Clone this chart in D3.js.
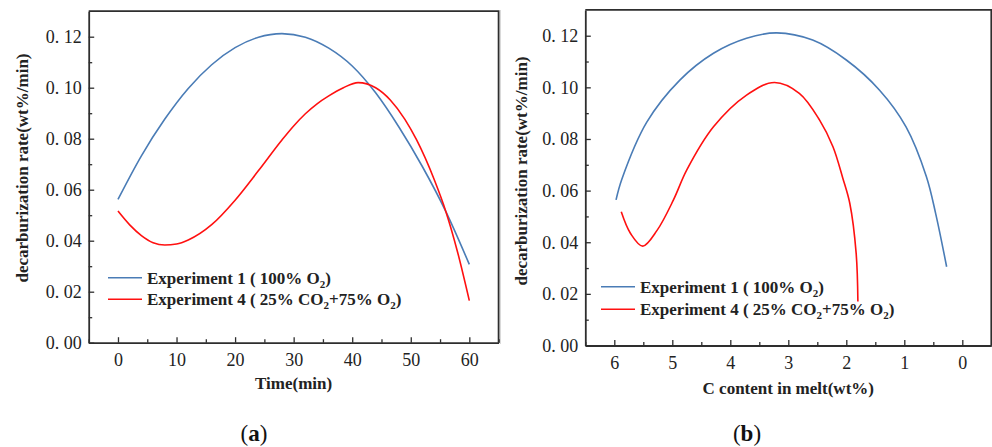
<!DOCTYPE html>
<html><head><meta charset="utf-8">
<script src="https://cdn.jsdelivr.net/npm/d3@7"></script>
<style>body{margin:0;background:#fff} svg{display:block}</style>
</head><body>
<svg id="c" width="992" height="447"></svg>
<script>
// ---- data ----
const timeTicks = [0, 10, 20, 30, 40, 50, 60];
const carbonTicks = [6, 5, 4, 3, 2, 1, 0];
const rateTicks = [0, 0.02, 0.04, 0.06, 0.08, 0.10, 0.12];

// (a) rate vs time
const exp1Time  = [0, 4, 8, 12, 16, 20, 24, 28, 32, 36, 40, 44, 48, 52, 56, 60];
const exp1RateA = [0.0562, 0.0733, 0.0877, 0.0997, 0.1090, 0.1157, 0.1198, 0.1212, 0.1198, 0.1155, 0.1085, 0.0980, 0.0845, 0.0690, 0.0514, 0.0307];
const exp4Time  = [0, 2, 4, 6, 8, 10, 12, 16, 20, 24, 28, 30, 32, 34, 36, 38.5, 41, 44, 46.5, 49, 51, 54, 56, 58, 60];
const exp4RateA = [0.0516, 0.0462, 0.0420, 0.0392, 0.0383, 0.0387, 0.0403, 0.0463, 0.0559, 0.0675, 0.0795, 0.0850, 0.0898, 0.0937, 0.0968, 0.1000, 0.1020, 0.1000, 0.0952, 0.0876, 0.0795, 0.0640, 0.0514, 0.0355, 0.0165];

// (b) rate vs C content
const exp1Carbon = [5.97, 5.87, 5.44, 4.87, 4.29, 3.72, 3.20, 2.58, 2.00, 1.43, 0.97, 0.62, 0.46, 0.27];
const exp1RateB  = [0.0564, 0.0644, 0.0865, 0.1028, 0.1132, 0.1190, 0.1211, 0.1183, 0.1106, 0.0990, 0.0847, 0.0655, 0.0512, 0.0305];
const exp4Carbon = [5.88, 5.72, 5.51, 5.26, 4.98, 4.75, 4.29, 3.72, 3.24, 2.81, 2.46, 2.23, 2.06, 1.94, 1.83, 1.80];
const exp4RateB  = [0.0518, 0.0434, 0.0385, 0.0447, 0.0564, 0.0680, 0.0847, 0.0970, 0.1019, 0.0977, 0.0873, 0.0770, 0.0648, 0.0551, 0.0357, 0.0170];

const legendMain = ["Experiment 1 ( 100% O", "Experiment 4 ( 25% CO"];
const seriesColors = ["#4a7cb6", "#ff1010"];
const xTitles = ["Time(min)", "C content in melt(wt%)"];
const yTitle = "decarburization rate(wt%/min)";
const captions = ["a", "b"];

// ---- drawing ----
const svg = d3.select("#c");
const FONT = "'Liberation Serif','Times New Roman',serif";
const AX = "#2e2e2e";

const panels = [
  { xDomain: [-5, 65], xRange: [88.7, 498.6], yRange: [342.7, 11.2], xTicks: timeTicks, xMinorStep: 5,
    curve: d3.curveMonotoneX,
    series: [[exp1Time, exp1RateA], [exp4Time, exp4RateA]], legendX: 108, legendY: [277.7, 299.3],
    yTitleX: 22, yTitleY: 168, xTitleY: 383, capX: 254 },
  { xDomain: [6.5, -0.5], xRange: [585.3, 991.3], yRange: [345.5, 9.9], xTicks: carbonTicks, xMinorStep: 0.5,
    curve: d3.curveCatmullRom.alpha(0.5),
    series: [[exp1Carbon, exp1RateB], [exp4Carbon, exp4RateB]], legendX: 601, legendY: [286.7, 309.3],
    yTitleX: 521, yTitleY: 171, xTitleY: 388, capX: 747 }
];

// faint separator line at the left of panel (b)
svg.append("line").attr("x1", 500.5).attr("x2", 500.5).attr("y1", 10).attr("y2", 344)
  .attr("stroke", "#d9d9d9").attr("stroke-width", 1);

panels.forEach((p, pi) => {
  const x = d3.scaleLinear().domain(p.xDomain).range(p.xRange);
  const y = d3.scaleLinear().domain([0, 0.13]).range(p.yRange);
  const g = svg.append("g");
  const [x0, x1] = p.xRange, [yb, yt] = p.yRange;

  // minor ticks
  const lo = Math.min(...p.xDomain), hi = Math.max(...p.xDomain);
  const xMinor = d3.range(Math.ceil(lo / p.xMinorStep) * p.xMinorStep, hi + 1e-9, p.xMinorStep)
    .filter(v => Math.abs(v / (p.xMinorStep * 2) - Math.round(v / (p.xMinorStep * 2))) > 1e-6);
  const yMinor = d3.range(0.01, 0.13, 0.02);

  g.append("g").attr("transform", `translate(0,${yb})`)
    .call(d3.axisBottom(x).tickValues(xMinor).tickSizeInner(-3.5).tickSizeOuter(0).tickFormat(""))
    .call(a => a.select(".domain").remove())
    .call(a => a.selectAll("line").attr("stroke", AX).attr("stroke-width", 1.3));
  g.append("g").attr("transform", `translate(${x0},0)`)
    .call(d3.axisLeft(y).tickValues(yMinor).tickSizeInner(-3.5).tickSizeOuter(0).tickFormat(""))
    .call(a => a.select(".domain").remove())
    .call(a => a.selectAll("line").attr("stroke", AX).attr("stroke-width", 1.3));

  // major axes
  g.append("g").attr("transform", `translate(0,${yb})`)
    .call(d3.axisBottom(x).tickValues(p.xTicks).tickSizeInner(-5.5).tickSizeOuter(0).tickPadding(11).tickFormat(d3.format("d")))
    .call(a => a.select(".domain").attr("stroke", AX).attr("stroke-width", 1.8))
    .call(a => a.selectAll("line").attr("stroke", AX).attr("stroke-width", 1.3))
    .call(a => a.selectAll("text").attr("font-family", FONT).attr("font-size", 18).attr("fill", "#222"));
  g.append("g").attr("transform", `translate(${x0},0)`)
    .call(d3.axisLeft(y).tickValues(rateTicks).tickSizeInner(-5.5).tickSizeOuter(0).tickPadding(7)
      .tickFormat(d => d3.format(".2f")(d).replace(".", ". ")))
    .call(a => a.select(".domain").attr("stroke", AX).attr("stroke-width", 1.8))
    .call(a => a.selectAll("line").attr("stroke", AX).attr("stroke-width", 1.3))
    .call(a => a.selectAll("text").attr("font-family", FONT).attr("font-size", 18).attr("fill", "#222").style("white-space", "pre"));

  // top and right frame
  g.append("path").attr("d", `M${x0},${yt}H${x1}V${yb}`).attr("fill", "none")
    .attr("stroke", AX).attr("stroke-width", 1.8);

  // curves
  const line = d3.line().x(d => x(d[0])).y(d => y(d[1])).curve(p.curve);
  p.series.forEach(([xs, ys], si) => {
    g.append("path").datum(xs.map((v, i) => [v, ys[i]])).attr("d", line)
      .attr("fill", "none").attr("stroke", seriesColors[si]).attr("stroke-width", 1.6);
  });

  // legend
  p.legendY.forEach((ly, si) => {
    g.append("line").attr("x1", p.legendX).attr("x2", p.legendX + 34).attr("y1", ly).attr("y2", ly)
      .attr("stroke", seriesColors[si]).attr("stroke-width", 1.6);
    const t = g.append("text").attr("x", p.legendX + 39).attr("y", ly + 6)
      .attr("font-family", FONT).attr("font-size", 17).attr("font-weight", "bold").attr("fill", "#222")
      .style("white-space", "pre");
    t.append("tspan").text(legendMain[si]);
    t.append("tspan").attr("font-size", 11).attr("dy", 4).text("2");
    if (si === 1) {
      t.append("tspan").attr("dy", -4).text("+75% O");
      t.append("tspan").attr("font-size", 11).attr("dy", 4).text("2");
    }
    t.append("tspan").attr("dy", -4).text(")");
  });

  // axis titles
  g.append("text").attr("x", (x0 + x1) / 2 + 0).attr("y", p.xTitleY).attr("dy", "0.35em")
    .attr("text-anchor", "middle").attr("font-family", FONT).attr("font-size", 17).attr("font-weight", "bold")
    .attr("fill", "#222").text(xTitles[pi]);
  g.append("text").attr("transform", `translate(${p.yTitleX},${p.yTitleY}) rotate(-90)`).attr("dy", "0.35em")
    .attr("text-anchor", "middle").attr("font-family", FONT).attr("font-size", 17).attr("font-weight", "bold")
    .attr("fill", "#222").text(yTitle);

  // caption
  const c = g.append("text").attr("x", p.capX).attr("y", 441).attr("text-anchor", "middle")
    .attr("font-family", FONT).attr("font-size", 23).attr("fill", "#111");
  c.append("tspan").text("(");
  c.append("tspan").attr("font-weight", "bold").text(captions[pi]);
  c.append("tspan").text(")");
});
</script>
</body></html>
